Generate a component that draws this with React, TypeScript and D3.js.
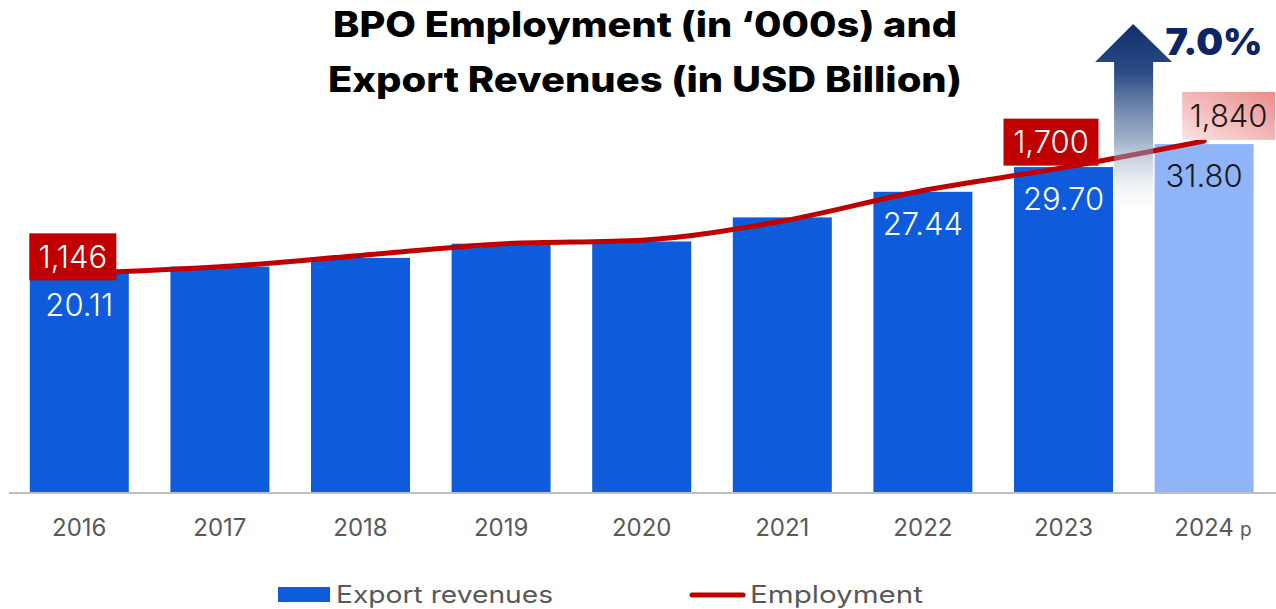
import React, { useEffect } from "react";
import * as d3 from "d3";

const years = ["2016", "2017", "2018", "2019", "2020", "2021", "2022", "2023", "2024"];
const revenues = [20.11, 20.6, 21.4, 22.7, 22.9, 25.1, 27.44, 29.7, 31.8];
const employment = [1146, 1180, 1240, 1300, 1320, 1420, 1580, 1700, 1840];
const revenueLabels = [
  { i: 0, text: "20.11" },
  { i: 6, text: "27.44" },
  { i: 7, text: "29.70" },
  { i: 8, text: "31.80" },
];
const employmentLabels = [
  { i: 0, text: "1,146" },
  { i: 7, text: "1,700" },
  { i: 8, text: "1,840" },
];
const titleLines = ["BPO Employment (in \u2018000s) and", "Export Revenues (in USD Billion)"];
const growthLabel = "7.0%";
const legendItems = ["Export revenues", "Employment"];

const W = 1276;
const H = 609;
const BASE = 492;
const FONT = "Inter, 'Open Sans', sans-serif";

export default function App() {
  useEffect(() => {
    document.body.style.margin = "0";
  }, []);

  const x = d3.scaleBand<string>().domain(years).range([9, 1274.4]).paddingInner(0.296).paddingOuter(0.148);
  const yRev = d3.scaleLinear().domain([0, 40]).range([BASE, BASE - 437.6]);
  const yEmp = d3.scaleLinear().domain([0, 2000]).range([BASE, BASE - 381.6]);
  const bw = x.bandwidth();
  const cx = (i: number) => (x(years[i]) as number) + bw / 2;

  const line = d3
    .line<number>()
    .x((_, i) => cx(i))
    .y((d) => yEmp(d))
    .curve(d3.curveMonotoneX);

  const lastIdx = years.length - 1;
  const titleWidths = [624, 634];

  return (
    <svg width={W} height={H} style={{ position: "absolute", left: 0, top: 0, display: "block" }} fontFamily={FONT}>
      <defs>
        <linearGradient id="arrowGrad" x1="0" y1="0" x2="0" y2="1">
          <stop offset="0%" stopColor="#102f6c" stopOpacity={1} />
          <stop offset="25%" stopColor="#1f427f" stopOpacity={0.95} />
          <stop offset="60%" stopColor="#6f87ad" stopOpacity={0.65} />
          <stop offset="100%" stopColor="#ffffff" stopOpacity={0} />
        </linearGradient>
        <linearGradient id="pinkGrad" x1="0" y1="1" x2="1" y2="0">
          <stop offset="0%" stopColor="#fbe4e4" />
          <stop offset="100%" stopColor="#e98c8c" />
        </linearGradient>
      </defs>

      {/* Title */}
      {titleLines.map((t, k) => (
        <text
          key={k}
          x={645}
          y={37 + k * 55}
          textAnchor="middle"
          fontSize={35}
          fontWeight={800}
          fill="#000"
          textLength={titleWidths[k]}
          lengthAdjust="spacingAndGlyphs"
        >
          {t}
        </text>
      ))}

      {/* Bars */}
      {revenues.map((v, i) => (
        <rect
          key={years[i]}
          x={x(years[i]) as number}
          y={yRev(v)}
          width={bw}
          height={BASE - yRev(v)}
          fill={i === lastIdx ? "#8fb4f7" : "#0e5cdb"}
        />
      ))}

      {/* Axis line */}
      <line x1={9} x2={W} y1={BASE + 1} y2={BASE + 1} stroke="#bfbfbf" strokeWidth={2} />

      {/* Year labels */}
      {years.map((yr, i) => (
        <g key={yr}>
          <text x={cx(i)} y={536} textAnchor="middle" fontSize={24} fill="#595959">
            {yr}
          </text>
          {i === lastIdx && (
            <text x={cx(i) + 36} y={536} fontSize={19} fill="#595959">
              p
            </text>
          )}
        </g>
      ))}

      {/* Employment line */}
      <path d={line(employment) || ""} fill="none" stroke="#c00000" strokeWidth={5} strokeLinecap="round" />

      {/* Growth arrow */}
      <path
        d={`M ${cx(lastIdx) - 71} 24 L ${cx(lastIdx) - 32} 62 L ${cx(lastIdx) - 51} 62 L ${cx(lastIdx) - 51} 218 L ${cx(lastIdx) - 90} 218 L ${cx(lastIdx) - 90} 62 L ${cx(lastIdx) - 109} 62 Z`}
        fill="url(#arrowGrad)"
      />
      <text x={1214} y={55} textAnchor="middle" fontSize={37} fontWeight={900} fill="#0d2466" textLength={97} lengthAdjust="spacingAndGlyphs">
        {growthLabel}
      </text>

      {/* Revenue labels */}
      {revenueLabels.map(({ i, text }) => {
        const yOff = i === 0 ? 316 : yRev(revenues[i]) + 43;
        return (
          <text
            key={text}
            x={cx(i)}
            y={yOff}
            textAnchor="middle"
            fontSize={31}
            fontWeight={300}
            fill={i === lastIdx ? "#1a1a1a" : "#ffffff"}
          >
            {text}
          </text>
        );
      })}

      {/* Employment labels */}
      {employmentLabels.map(({ i, text }) => {
        const last = i === lastIdx;
        const bx = i === 0 ? cx(i) - 50 : last ? cx(i) - 22 : cx(i) - 60;
        const bwid = last ? 93 : i === 0 ? 87 : 95;
        const by = yEmp(employment[i]) - (last ? 49 : i === 0 ? 40 : 49);
        const bh = last ? 48 : 47;
        return (
          <g key={text}>
            <rect x={bx} y={by} width={bwid} height={bh} fill={last ? "url(#pinkGrad)" : "#c00000"} />
            <text
              x={bx + bwid / 2}
              y={by + bh / 2 + 11}
              textAnchor="middle"
              fontSize={31}
              fontWeight={300}
              fill={last ? "#1a1a1a" : "#ffffff"}
            >
              {text}
            </text>
          </g>
        );
      })}

      {/* Legend */}
      <rect x={278} y={587} width={52} height={15} fill="#0e5cdb" />
      <text x={336} y={603} fontSize={24} fill="#595959" textLength={217} lengthAdjust="spacingAndGlyphs">
        {legendItems[0]}
      </text>
      <line x1={692} x2={743} y1={595} y2={595} stroke="#c00000" strokeWidth={5} strokeLinecap="round" />
      <text x={750} y={603} fontSize={24} fill="#595959" textLength={173} lengthAdjust="spacingAndGlyphs">
        {legendItems[1]}
      </text>
    </svg>
  );
}
